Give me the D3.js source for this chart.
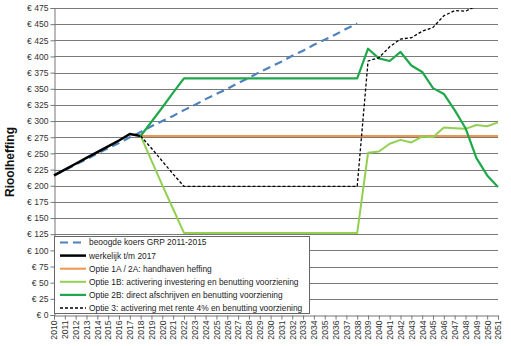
<!DOCTYPE html>
<html><head><meta charset="utf-8">
<script src="https://cdn.jsdelivr.net/npm/d3@7"></script>
<style>
html,body{margin:0;padding:0;background:#fff;}
svg{display:block;font-family:"Liberation Sans",Arial,sans-serif;}
</style></head>
<body>
<svg id="chart" width="511" height="346"></svg>
<script>
const years = d3.range(2010, 2052);
const yTicks = [0,25,50,75,100,125,150,175,200,225,250,275,300,325,350,375,400,425,450,475];

const beoogdeYears = d3.range(2010, 2039);
const beoogde = [216,224,233,241,250,258,266,275,283,292,300,308,317,325,334,342,350,359,367,376,384,392,401,409,418,426,434,443,451];

const werkelijkYears = d3.range(2010, 2019);
const werkelijk = [216,225,234,243,252,261,270,280,277];

const optieYears = d3.range(2018, 2052);
const optie1A = [277,277,277,277,277,277,277,277,277,277,277,277,277,277,277,277,277,277,277,277,277,277,277,277,277,277,277,277,277,277,277,277,277,277];
const optie1B = [277,239,201,164,127,127,127,127,127,127,127,127,127,127,127,127,127,127,127,127,127,251,253,265,271,267,276,275,290,289,288,294,292,298];
const optie2B = [277,299,321,344,366,366,366,366,366,366,366,366,366,366,366,366,366,366,366,366,366,412,397,393,407,386,376,351,342,317,289,243,216,198];
const optie3Years = d3.range(2018, 2050);
const optie3 = [277,258,238,218,199,199,199,199,199,199,199,199,199,199,199,199,199,199,199,199,199,393,398,415,427,429,439,445,463,471,470,478];

const legendLabels = [
  "beoogde koers GRP 2011-2015",
  "werkelijk t/m 2017",
  "Optie 1A / 2A: handhaven heffing",
  "Optie 1B: activering investering en benutting voorziening",
  "Optie 2B: direct afschrijven en benutting voorziening",
  "Optie 3: activering met rente 4% en benutting voorziening"
];

const svg = d3.select("#chart");
const L = 54, R = 498, T = 8, B = 315;
const x = d3.scaleLinear().domain([2010, 2051]).range([L, R]);
const y = d3.scaleLinear().domain([0, 475]).range([B, T]);

svg.append("defs").append("clipPath").attr("id","plot")
  .append("rect").attr("x", L-2).attr("y", T).attr("width", R-L+4).attr("height", B-T);

// gridlines
svg.append("g").selectAll("line").data(yTicks.filter(d=>d>0)).join("line")
  .attr("x1", L).attr("x2", R)
  .attr("y1", d=>Math.round(y(d))+0.5).attr("y2", d=>Math.round(y(d))+0.5)
  .attr("stroke", "#7a7a7a").attr("stroke-width", 1);

// y axis
const yAxis = svg.append("g").attr("transform", `translate(${L+0.5},0)`)
  .call(d3.axisLeft(y).tickValues(yTicks).tickSize(4).tickFormat(d=>"€ " + d));
yAxis.select(".domain").attr("stroke", "#777");
yAxis.selectAll(".tick line").attr("stroke", "#777");
yAxis.selectAll(".tick text").attr("font-size", 8.6).attr("fill", "#333")
  .attr("font-family", "'Liberation Sans',Arial,sans-serif").attr("x", -6);

// x axis
const xAxis = svg.append("g").attr("transform", `translate(0,${B+0.5})`)
  .call(d3.axisBottom(x).tickValues(years).tickSize(4).tickFormat(d3.format("d")));
xAxis.select(".domain").attr("stroke", "#777");
xAxis.selectAll(".tick line").attr("stroke", "#777");
xAxis.selectAll(".tick text").attr("font-size", 8.6).attr("fill", "#333")
  .attr("font-family", "'Liberation Sans',Arial,sans-serif")
  .attr("transform", "rotate(-90)").attr("text-anchor", "end")
  .attr("x", -5).attr("y", 0).attr("dy", "0.33em");

// y title
svg.append("text").attr("transform", "translate(14,162) rotate(-90)")
  .attr("text-anchor", "middle").attr("font-size", 12).attr("font-weight", "bold")
  .attr("fill", "#111").text("Rioolheffing");

const line = d3.line().x(d=>x(d[0])).y(d=>y(d[1]));
const series = [
  {yrs: beoogdeYears, vals: beoogde, color: "#4f81bd", w: 2.2, dash: "8,5"},
  {yrs: werkelijkYears, vals: werkelijk, color: "#000000", w: 2.5, dash: null},
  {yrs: optieYears, vals: optie1A, color: "#f0954c", w: 2, dash: null},
  {yrs: optieYears, vals: optie1B, color: "#92d050", w: 2, dash: null},
  {yrs: optieYears, vals: optie2B, color: "#1fa84a", w: 2.2, dash: null},
  {yrs: optie3Years, vals: optie3, color: "#000000", w: 1.3, dash: "3,2"}
];
const g = svg.append("g").attr("clip-path", "url(#plot)");
series.forEach(s => {
  g.append("path").datum(s.yrs.map((yr,i)=>[yr, s.vals[i]]))
    .attr("d", line).attr("fill", "none")
    .attr("stroke", s.color).attr("stroke-width", s.w)
    .attr("stroke-dasharray", s.dash).attr("stroke-linejoin", "round");
});

// legend
const lg = svg.append("g");
lg.append("rect").attr("x", L+0.5).attr("y", 236.5).attr("width", 255).attr("height", 77)
  .attr("fill", "#fff").attr("stroke", "#666").attr("stroke-width", 1);
series.forEach((s, i) => {
  const yy = 242.5 + i*13.1;
  lg.append("line").attr("x1", 60).attr("x2", 86).attr("y1", yy).attr("y2", yy)
    .attr("stroke", s.color).attr("stroke-width", s.w + (i===5?0.3:0))
    .attr("stroke-dasharray", s.dash);
  lg.append("text").attr("x", 89).attr("y", yy).attr("dy", "0.35em")
    .attr("font-size", 8.4).attr("fill", "#222").text(legendLabels[i]);
});
</script>
</body></html>
